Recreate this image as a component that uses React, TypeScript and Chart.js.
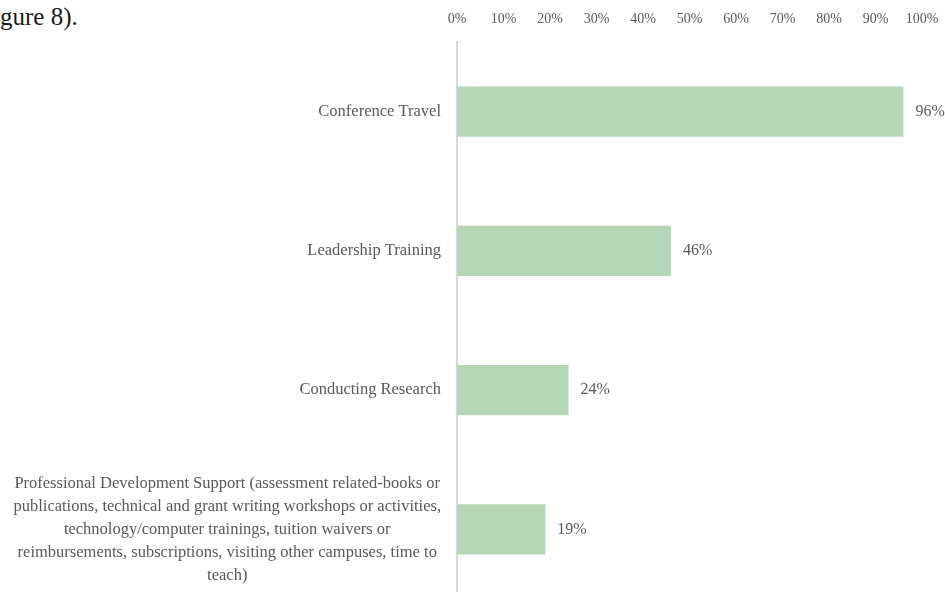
import React, { useEffect, useRef } from "react";
import { Chart, registerables } from "chart.js";

Chart.register(...registerables);

const categories: string[][] = [
  ["Conference Travel"],
  ["Leadership Training"],
  ["Conducting Research"],
  [
    "Professional Development Support (assessment related-books or",
    "publications, technical and grant writing workshops or activities,",
    "technology/computer trainings, tuition waivers or",
    "reimbursements, subscriptions, visiting other campuses, time to",
    "teach)",
  ],
];
const values: number[] = [96, 46, 24, 19];
const valueLabels: string[] = ["96%", "46%", "24%", "19%"];
const tickStep = 10;

const FONT = "'Liberation Serif', 'DejaVu Serif', serif";
const TEXT = "#595959";

const labelPlugin = {
  id: "customLabels",
  afterDraw(chart: any) {
    const { ctx, chartArea } = chart;
    const y = chart.scales.y;
    const x = chart.scales.x;
    ctx.save();
    ctx.fillStyle = TEXT;
    ctx.font = `16.5px ${FONT}`;
    ctx.textBaseline = "middle";
    const lh = 23;
    categories.forEach((lines, i) => {
      const cy = y.getPixelForValue(i);
      const maxW = Math.max(...lines.map((l) => ctx.measureText(l).width));
      const right = chartArea.left - 16;
      const cx = right - maxW / 2;
      ctx.textAlign = "center";
      const start = cy - ((lines.length - 1) * lh) / 2;
      lines.forEach((l, j) => ctx.fillText(l, cx, start + j * lh));
    });
    ctx.font = `16px ${FONT}`;
    ctx.textAlign = "left";
    values.forEach((v, i) => {
      const px = x.getPixelForValue(v);
      const cy = y.getPixelForValue(i);
      ctx.fillText(valueLabels[i], px + 12, cy);
    });
    ctx.restore();
  },
};

function ChartView() {
  const ref = useRef<HTMLCanvasElement | null>(null);
  useEffect(() => {
    if (!ref.current) return;
    const chart = new Chart(ref.current, {
      type: "bar",
      data: {
        labels: categories.map((c) => c.join(" ")),
        datasets: [
          {
            data: values,
            backgroundColor: "rgb(181,215,183)",
            borderWidth: 0,
            categoryPercentage: 0.36,
            barPercentage: 1,
          },
        ],
      },
      options: {
        indexAxis: "y",
        responsive: false,
        animation: false,
        layout: { padding: { left: 457, right: 23, top: 0, bottom: 0 } },
        plugins: {
          legend: { display: false },
          tooltip: { enabled: false },
        },
        scales: {
          x: {
            position: "top",
            min: 0,
            max: 100,
            grid: { display: false, drawTicks: false },
            border: { display: false },
            ticks: {
              stepSize: tickStep,
              maxRotation: 0,
              autoSkip: false,
              color: TEXT,
              font: { family: FONT, size: 14 },
              padding: 14,
              callback: (v: any) => `${v}%`,
            },
            afterFit: (s: any) => {
              s.height = 42;
              s.paddingLeft = 0;
              s.paddingRight = 0;
            },
          },
          y: {
            grid: { display: false, drawTicks: false },
            border: { display: true, color: "#d9d9d9", width: 2 },
            ticks: { display: false },
            afterFit: (s: any) => {
              s.width = 0;
            },
          },
        },
      },
      plugins: [labelPlugin],
    });
    return () => chart.destroy();
  }, []);
  return <canvas ref={ref} width={945} height={599} />;
}

export default function App() {
  return (
    <div
      style={{
        position: "absolute",
        left: 0,
        top: 0,
        width: 945,
        height: 592,
        overflow: "hidden",
        background: "#fff",
      }}
    >
      <div
        style={{
          position: "absolute",
          left: 0,
          top: 0,
          fontFamily: FONT,
          fontSize: 25,
          color: "#1a1a1a",
          lineHeight: "34px",
          whiteSpace: "nowrap",
        }}
      >
        gure 8).
      </div>
      <div style={{ position: "absolute", left: 0, top: 0 }}>
        <ChartView />
      </div>
    </div>
  );
}
